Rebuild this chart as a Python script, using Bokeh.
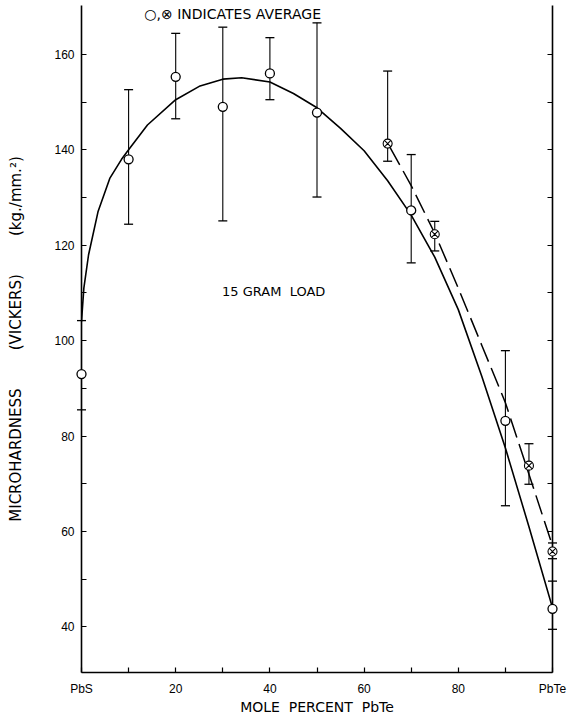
from bokeh.plotting import figure
from bokeh.models import (ColumnDataSource, LinearAxis, FixedTicker, Range1d, Label)
from bokeh.embed import file_html
from bokeh.resources import INLINE

# ---- data ----
avg_x = [0, 10, 20, 30, 40, 50, 70, 90, 100]
avg_y = [93.0, 138.0, 155.3, 149.0, 156.0, 147.8, 127.3, 83.2, 43.8]
avg_lo = [85.5, 124.4, 146.5, 125.1, 150.5, 130.1, 116.3, 65.4, 39.5]
avg_hi = [104.2, 152.6, 164.4, 165.7, 163.5, 166.6, 139.0, 97.9, 49.6]

alt_x = [65, 75, 95, 100]
alt_y = [141.3, 122.3, 73.8, 55.8]
alt_lo = [137.6, 118.8, 69.9, 54.3]
alt_hi = [156.5, 125.0, 78.4, 57.6]

fit_x = [0, 0.5, 1.5, 3.5, 6, 8.5, 10, 14, 20, 25, 30, 34, 40, 45, 50,
         55, 60, 65, 70, 75, 80, 85, 90, 95, 100]
fit_y = [104, 111, 118, 127, 134, 138, 140, 145.2, 150.5, 153.3, 154.8,
         155.1, 154.2, 151.8, 148.8, 144.5, 139.8, 133.5, 126.3, 117.5, 106.5,
         92.5, 77.5, 61, 44]

dash_x = [65.5, 70, 75, 80, 85, 90, 95, 100]
dash_y = [140.5, 132.5, 122.5, 111, 99, 87, 72, 57]

x_ticks = [0, 20, 40, 60, 80, 100]
x_tick_labels = ["PbS", "20", "40", "60", "80", "PbTe"]
x_minor = [10, 30, 50, 70, 90]
y_ticks = [40, 60, 80, 100, 120, 140, 160]
y_minor = [50, 70, 90, 110, 130, 150]
right_ticks = [60, 70, 80, 90, 100, 110, 120, 130, 140, 150, 160]

title_text = "\u25cb,\u2297 INDICATES AVERAGE"
load_text = "15 GRAM\u00a0\u00a0LOAD"
nb = "\u00a0" * 8
y_label = "MICROHARDNESS" + nb + "(VICKERS)" + nb + "(kg./mm.\u00b2)"
x_label = "MOLE\u00a0\u00a0PERCENT\u00a0\u00a0PbTe"

FONT = "DejaVu Sans"
TFONT = "Liberation Sans"

p = figure(width=567, height=717, output_backend="svg", toolbar_location=None,
           title=None, x_range=Range1d(0, 100), y_range=Range1d(30.45, 170.24),
           min_border_left=81, min_border_right=15, min_border_top=5,
           min_border_bottom=43)
p.outline_line_color = None
p.xgrid.visible = False
p.ygrid.visible = False
p.background_fill_color = "white"

for ax in (p.xaxis[0], p.yaxis[0]):
    ax.axis_line_width = 1.6
    ax.axis_line_color = "black"
    ax.major_tick_in = 5
    ax.major_tick_out = 0
    ax.minor_tick_in = 5
    ax.minor_tick_out = 0
    ax.major_tick_line_width = 1.2
    ax.minor_tick_line_width = 1.2
    ax.major_tick_line_color = "black"
    ax.minor_tick_line_color = "black"
    ax.major_label_text_font = TFONT
    ax.major_label_text_font_size = "12px"
    ax.major_label_text_color = "black"
    ax.axis_label_text_font = FONT
    ax.axis_label_text_font_style = "normal"
    ax.axis_label_text_color = "black"

p.xaxis.ticker = FixedTicker(ticks=x_ticks, minor_ticks=x_minor)
p.xaxis.major_label_overrides = {t: l for t, l in zip(x_ticks, x_tick_labels)}
p.xaxis.major_label_standoff = 9
p.xaxis.axis_label = x_label
p.xaxis.axis_label_text_font_size = "14px"
p.xaxis.axis_label_standoff = 0

p.yaxis.ticker = FixedTicker(ticks=y_ticks, minor_ticks=y_minor)
p.yaxis.major_label_standoff = 7
p.yaxis.axis_label = y_label
p.yaxis.axis_label_text_font_size = "15px"
p.yaxis.axis_label_standoff = 26

# right-hand axis: line plus unlabelled inward ticks
raxis = LinearAxis(ticker=FixedTicker(ticks=[], minor_ticks=right_ticks),
                   major_tick_in=0, major_tick_out=0,
                   minor_tick_in=5, minor_tick_out=0,
                   axis_line_width=1.6, minor_tick_line_width=1.2,
                   minor_tick_line_color="black", axis_line_color="black")
p.add_layout(raxis, "right")

# fitted curve and dashed curve
p.line(fit_x, fit_y, line_color="black", line_width=1.6)
p.line(dash_x, dash_y, line_color="black", line_width=1.5, line_dash="20 7")

# error bars: stems and caps
src_a = ColumnDataSource(dict(x=avg_x, y=avg_y, lo=avg_lo, hi=avg_hi))
src_b = ColumnDataSource(dict(x=alt_x, y=alt_y, lo=alt_lo, hi=alt_hi))
rs = []
for src in (src_a, src_b):
    rs.append(p.segment(x0="x", y0="lo", x1="x", y1="hi", source=src,
                        line_color="black", line_width=1.1))
    rs.append(p.scatter("x", "lo", source=src, marker="dash", size=9,
                        line_color="black", line_width=1.3))
    rs.append(p.scatter("x", "hi", source=src, marker="dash", size=9,
                        line_color="black", line_width=1.3))

rs.append(p.scatter("x", "y", source=src_a, marker="circle", size=9,
                    fill_color="white", line_color="black", line_width=1.3))
rs.append(p.scatter("x", "y", source=src_b, marker="circle_x", size=9,
                    fill_color="white", line_color="black", line_width=1.1))
for r in rs:
    r.level = "overlay"

p.add_layout(Label(x=32.1, y=170.1, text=title_text, text_align="center",
                   text_baseline="top", text_font=FONT,
                   text_font_size="14px", text_color="black"))
p.add_layout(Label(x=40.8, y=110.3, text=load_text, text_align="center",
                   text_baseline="middle", text_font=FONT,
                   text_font_size="13px", text_color="black"))

open("out.html", "w").write(file_html(p, INLINE))
